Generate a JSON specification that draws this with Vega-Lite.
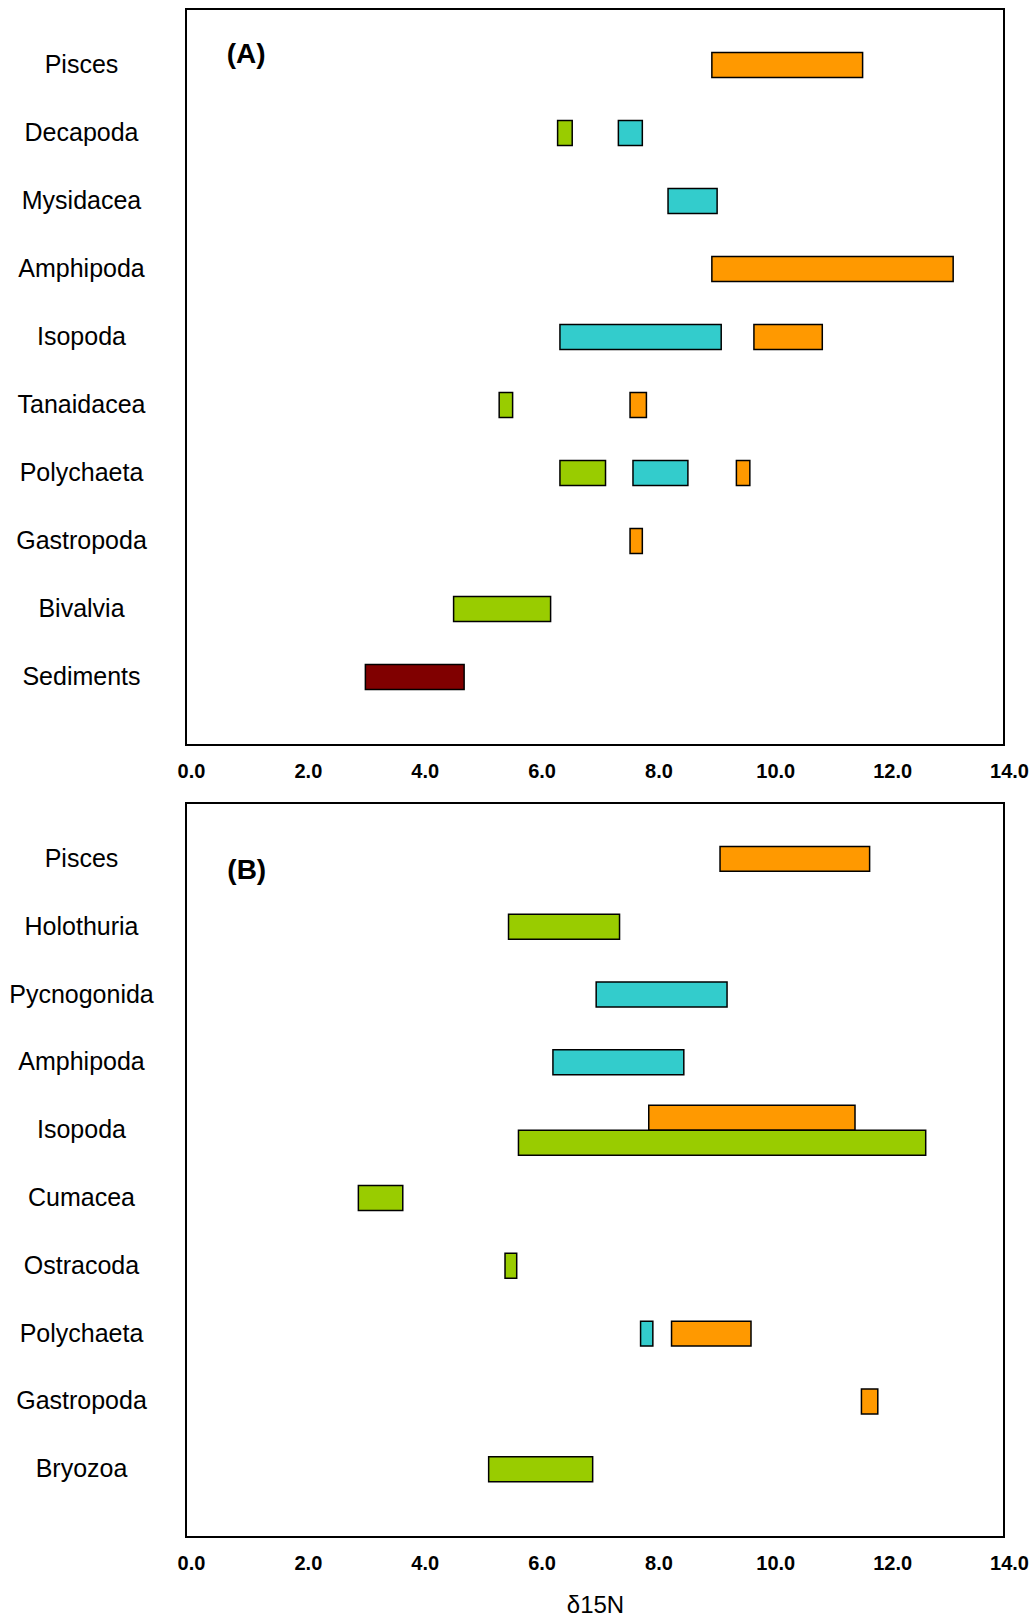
{
  "$schema": "https://vega.github.io/schema/vega-lite/v6.json",
  "padding": {"left": 7, "top": 8, "right": 5, "bottom": 3},
  "background": "white",
  "bounds": "flush",
  "spacing": 58,
  "config": {
    "font": "Liberation Sans",
    "view": {"stroke": "black", "strokeWidth": 2},
    "axis": {"grid": false, "domain": false, "ticks": false, "labelColor": "black", "titleColor": "black"},
    "axisY": {"labelAlign": "center", "labelPadding": 105, "labelFontSize": 25, "labelFontWeight": "normal", "labelBaseline": "middle"},
    "axisX": {"labelFontSize": 20, "labelFontWeight": "bold", "labelPadding": 16, "labelOffset": 5, "labelFlush": false, "labelOverlap": false, "titleFontSize": 24, "titleFontWeight": "normal", "titlePadding": 20}
  },
  "datasets": {
    "bars": [
      {"panel": "A", "taxon": "Pisces", "group": "orange", "tier": "mid", "lo": 9.00, "hi": 11.58},
      {"panel": "A", "taxon": "Decapoda", "group": "green", "tier": "mid", "lo": 6.36, "hi": 6.61},
      {"panel": "A", "taxon": "Decapoda", "group": "cyan", "tier": "mid", "lo": 7.40, "hi": 7.81},
      {"panel": "A", "taxon": "Mysidacea", "group": "cyan", "tier": "mid", "lo": 8.25, "hi": 9.09},
      {"panel": "A", "taxon": "Amphipoda", "group": "orange", "tier": "mid", "lo": 9.00, "hi": 13.13},
      {"panel": "A", "taxon": "Isopoda", "group": "cyan", "tier": "mid", "lo": 6.40, "hi": 9.16},
      {"panel": "A", "taxon": "Isopoda", "group": "orange", "tier": "mid", "lo": 9.72, "hi": 10.89},
      {"panel": "A", "taxon": "Tanaidacea", "group": "green", "tier": "mid", "lo": 5.36, "hi": 5.59},
      {"panel": "A", "taxon": "Tanaidacea", "group": "orange", "tier": "mid", "lo": 7.60, "hi": 7.88},
      {"panel": "A", "taxon": "Polychaeta", "group": "green", "tier": "mid", "lo": 6.40, "hi": 7.18},
      {"panel": "A", "taxon": "Polychaeta", "group": "cyan", "tier": "mid", "lo": 7.65, "hi": 8.59},
      {"panel": "A", "taxon": "Polychaeta", "group": "orange", "tier": "mid", "lo": 9.42, "hi": 9.65},
      {"panel": "A", "taxon": "Gastropoda", "group": "orange", "tier": "mid", "lo": 7.60, "hi": 7.81},
      {"panel": "A", "taxon": "Bivalvia", "group": "green", "tier": "mid", "lo": 4.58, "hi": 6.24},
      {"panel": "A", "taxon": "Sediments", "group": "sediment", "tier": "mid", "lo": 3.07, "hi": 4.76},
      {"panel": "B", "taxon": "Pisces", "group": "orange", "tier": "mid", "lo": 9.14, "hi": 11.70},
      {"panel": "B", "taxon": "Holothuria", "group": "green", "tier": "mid", "lo": 5.52, "hi": 7.42},
      {"panel": "B", "taxon": "Pycnogonida", "group": "cyan", "tier": "mid", "lo": 7.02, "hi": 9.26},
      {"panel": "B", "taxon": "Amphipoda", "group": "cyan", "tier": "mid", "lo": 6.28, "hi": 8.52},
      {"panel": "B", "taxon": "Isopoda", "group": "orange", "tier": "upper", "lo": 7.92, "hi": 11.45},
      {"panel": "B", "taxon": "Isopoda", "group": "green", "tier": "lower", "lo": 5.69, "hi": 12.66},
      {"panel": "B", "taxon": "Cumacea", "group": "green", "tier": "mid", "lo": 2.95, "hi": 3.71},
      {"panel": "B", "taxon": "Ostracoda", "group": "green", "tier": "mid", "lo": 5.46, "hi": 5.66},
      {"panel": "B", "taxon": "Polychaeta", "group": "cyan", "tier": "mid", "lo": 7.78, "hi": 7.99},
      {"panel": "B", "taxon": "Polychaeta", "group": "orange", "tier": "mid", "lo": 8.31, "hi": 9.67},
      {"panel": "B", "taxon": "Gastropoda", "group": "orange", "tier": "mid", "lo": 11.56, "hi": 11.84},
      {"panel": "B", "taxon": "Bryozoa", "group": "green", "tier": "mid", "lo": 5.18, "hi": 6.96}
    ]
  },
  "vconcat": [
    {
      "width": 818,
      "height": 736,
      "layer": [
        {
          "data": {"name": "bars"},
          "transform": [{"filter": "datum.panel == 'A'"}],
          "mark": {"type": "bar", "stroke": "black", "strokeWidth": 1.5},
          "encoding": {
            "y": {"field": "taxon", "type": "nominal", "title": null,
              "sort": ["Pisces", "Decapoda", "Mysidacea", "Amphipoda", "Isopoda", "Tanaidacea", "Polychaeta", "Gastropoda", "Bivalvia", "Sediments"],
              "scale": {"paddingInner": 0.632, "paddingOuter": 0.727, "align": 0.44}},
            "x": {"field": "lo", "type": "quantitative", "title": null,
              "scale": {"domain": [0, 14], "nice": false, "zero": false},
              "axis": {"values": [0, 2, 4, 6, 8, 10, 12, 14], "format": ".1f"}},
            "x2": {"field": "hi"},
            "color": {"field": "group", "type": "nominal", "legend": null,
              "scale": {"domain": ["orange", "cyan", "green", "sediment"], "range": ["#FF9900", "#33CCCC", "#99CC00", "#800000"]}}
          }
        },
        {
          "data": {"values": [{"label": "(A)", "xpos": 1.03}]},
          "mark": {"type": "text", "fontSize": 28, "fontWeight": "bold", "align": "center", "baseline": "middle", "dy": -10.5, "color": "black"},
          "encoding": {
            "x": {"field": "xpos", "type": "quantitative"},
            "y": {"datum": "Pisces"},
            "text": {"field": "label"}
          }
        }
      ]
    },
    {
      "width": 818,
      "height": 734,
      "layer": [
        {
          "data": {"name": "bars"},
          "transform": [{"filter": "datum.panel == 'B' && datum.tier == 'mid'"}],
          "mark": {"type": "bar", "stroke": "black", "strokeWidth": 1.5},
          "encoding": {
            "y": {"field": "taxon", "type": "nominal", "title": null,
              "sort": ["Pisces", "Holothuria", "Pycnogonida", "Amphipoda", "Isopoda", "Cumacea", "Ostracoda", "Polychaeta", "Gastropoda", "Bryozoa"],
              "scale": {"domain": ["Pisces", "Holothuria", "Pycnogonida", "Amphipoda", "Isopoda", "Cumacea", "Ostracoda", "Polychaeta", "Gastropoda", "Bryozoa"], "paddingInner": 0.632, "paddingOuter": 0.727, "align": 0.44}},
            "x": {"field": "lo", "type": "quantitative", "title": "δ15N",
              "scale": {"domain": [0, 14], "nice": false, "zero": false},
              "axis": {"values": [0, 2, 4, 6, 8, 10, 12, 14], "format": ".1f"}},
            "x2": {"field": "hi"},
            "color": {"field": "group", "type": "nominal", "legend": null,
              "scale": {"domain": ["orange", "cyan", "green", "sediment"], "range": ["#FF9900", "#33CCCC", "#99CC00", "#800000"]}}
          }
        },
        {
          "data": {"name": "bars"},
          "transform": [{"filter": "datum.panel == 'B' && datum.tier != 'mid'"}],
          "mark": {"type": "bar", "stroke": "black", "strokeWidth": 1.5},
          "encoding": {
            "y": {"field": "taxon", "type": "nominal", "title": null},
            "yOffset": {"field": "tier", "type": "nominal",
              "scale": {"domain": ["upper", "lower"], "range": [-12.5, 37.5], "paddingInner": 0, "paddingOuter": 0}},
            "x": {"field": "lo", "type": "quantitative"},
            "x2": {"field": "hi"},
            "color": {"field": "group", "type": "nominal", "legend": null}
          }
        },
        {
          "data": {"values": [{"label": "(B)", "xpos": 1.04}]},
          "mark": {"type": "text", "fontSize": 28, "fontWeight": "bold", "align": "center", "baseline": "middle", "dy": 12, "color": "black"},
          "encoding": {
            "x": {"field": "xpos", "type": "quantitative"},
            "y": {"datum": "Pisces"},
            "text": {"field": "label"}
          }
        }
      ]
    }
  ]
}
